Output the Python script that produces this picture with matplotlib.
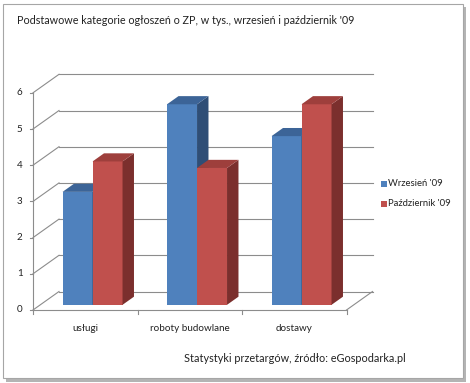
import matplotlib
matplotlib.use("Agg")
import matplotlib.pyplot as plt
from matplotlib.patches import Polygon, Rectangle

plt.rcParams['font.family'] = ['Lato', 'DejaVu Sans']

# data
categories = ["usługi", "roboty budowlane", "dostawy"]
series_names = ["Wrzesień '09", "Październik '09"]
wrzesien = [3.12, 5.54, 4.66]
pazdziernik = [3.96, 3.78, 5.54]
y_ticks = [0, 1, 2, 3, 4, 5, 6]

title = "Podstawowe kategorie ogłoszeń o ZP, w tys., wrzesień i październik '09"
footer = "Statystyki przetargów, źródło: eGospodarka.pl"

front_cols = ["#4F81BD", "#C0504D"]
top_cols = ["#3C6497", "#9E3F3C"]
side_cols = ["#2F4E76", "#7B2F2D"]
grid_col = "#8C8C8C"
txt_col = "#222222"

# oblique projection: depth 0..1 -> shift in category / value units
DX, DY = 0.249, 0.511


def proj(x, v, d):
    return (x + DX * d, v + DY * d)


def draw_box(ax, x0, x1, v, d0, d1, k):
    # front face
    ax.add_patch(Polygon([proj(x0, 0, d0), proj(x1, 0, d0), proj(x1, v, d0), proj(x0, v, d0)],
                         closed=True, facecolor=front_cols[k], edgecolor="none", zorder=3))
    # side face
    ax.add_patch(Polygon([proj(x1, 0, d0), proj(x1, 0, d1), proj(x1, v, d1), proj(x1, v, d0)],
                         closed=True, facecolor=side_cols[k], edgecolor="none", zorder=3))
    # top face
    ax.add_patch(Polygon([proj(x0, v, d0), proj(x1, v, d0), proj(x1, v, d1), proj(x0, v, d1)],
                         closed=True, facecolor=top_cols[k], edgecolor="none", zorder=3))


def fit_size(fig, s, target_px, base=10):
    """font size giving the text a width of target_px"""
    t = fig.text(0, 0, s, fontsize=base)
    w = t.get_window_extent(fig.canvas.get_renderer()).width
    t.remove()
    return base * target_px / w


W, H = 470, 383
fig = plt.figure(figsize=(W / 100, H / 100), dpi=100)

title_fs = fit_size(fig, title, 339)
footer_fs = fit_size(fig, footer, 220)
cat_fs = fit_size(fig, categories[1], 80)
leg_fs = fit_size(fig, series_names[1], 63)

# frame with shadow
fig.add_artist(Rectangle((6 / W, 1 / H), 460 / W, 375 / H, transform=fig.transFigure,
                         facecolor="#B4B4B4", edgecolor="none", zorder=0))
fig.add_artist(Rectangle((3 / W, 5 / H), 460 / W, 374 / H, transform=fig.transFigure,
                         facecolor="white", edgecolor="#A6A6A6", lw=0.8, zorder=1))

# axes placed so that 1 category = 104.5 px, 1 unit = 36.2 px
xlim = (-0.35, 3.3)
ylim = (-0.2, 6.6)
cw, vh = 104.5, 36.2
left_px = 33 + xlim[0] * cw
bottom_px = 310 + (-ylim[0]) * vh
ax = fig.add_axes([left_px / W, (H - bottom_px) / H,
                   (xlim[1] - xlim[0]) * cw / W, (ylim[1] - ylim[0]) * vh / H])
ax.set_xlim(*xlim)
ax.set_ylim(*ylim)
ax.axis("off")
ax.set_zorder(2)

n = len(categories)
# walls: gridlines
for v in y_ticks:
    ax.plot(*zip(proj(0, v, 0), proj(0, v, 1)), color=grid_col, lw=0.8, zorder=1)
    ax.plot(*zip(proj(0, v, 1), proj(n, v, 1)), color=grid_col, lw=0.8, zorder=1)
    ax.plot([-0.03, 0], [v, v], color=grid_col, lw=0.8, zorder=1)
    ax.text(-0.1, v, str(v), ha="right", va="center", fontsize=cat_fs, color=txt_col)
# floor right edge and axes
ax.plot(*zip(proj(n, 0, 0), proj(n, 0, 1)), color=grid_col, lw=0.8, zorder=1)
ax.plot([0, 0], [0, max(y_ticks)], color=grid_col, lw=0.8, zorder=4)
ax.plot([0, n], [0, 0], color=grid_col, lw=0.8, zorder=4)
for i in range(n + 1):
    ax.plot([i, i], [0, -0.1], color=grid_col, lw=0.8, zorder=4)

# bars
bw = 0.287
d0, d1 = 0.28, 0.72
for i in range(n):
    for k, vals in enumerate([wrzesien, pazdziernik]):
        x0 = i + 0.5 - bw + k * bw
        draw_box(ax, x0, x0 + bw, vals[i], d0, d1, k)
    ax.text(i + 0.5, -0.52, categories[i], ha="center", va="center", fontsize=cat_fs, color=txt_col)

# legend
for k, name in enumerate(series_names):
    y = 184 + k * 20
    fig.add_artist(Rectangle((381 / W, (H - y - 3) / H), 6 / W, 6 / H, transform=fig.transFigure,
                             facecolor=front_cols[k], edgecolor="none", zorder=3))
    fig.text(388 / W, (H - y) / H, name, ha="left", va="center", fontsize=leg_fs, color=txt_col)

fig.text(17 / W, (H - 21) / H, title, ha="left", va="center", fontsize=title_fs, color=txt_col)
fig.text(295 / W, (H - 358) / H, footer, ha="center", va="center", fontsize=footer_fs, color=txt_col)

fig.savefig("out.png", dpi=100)
